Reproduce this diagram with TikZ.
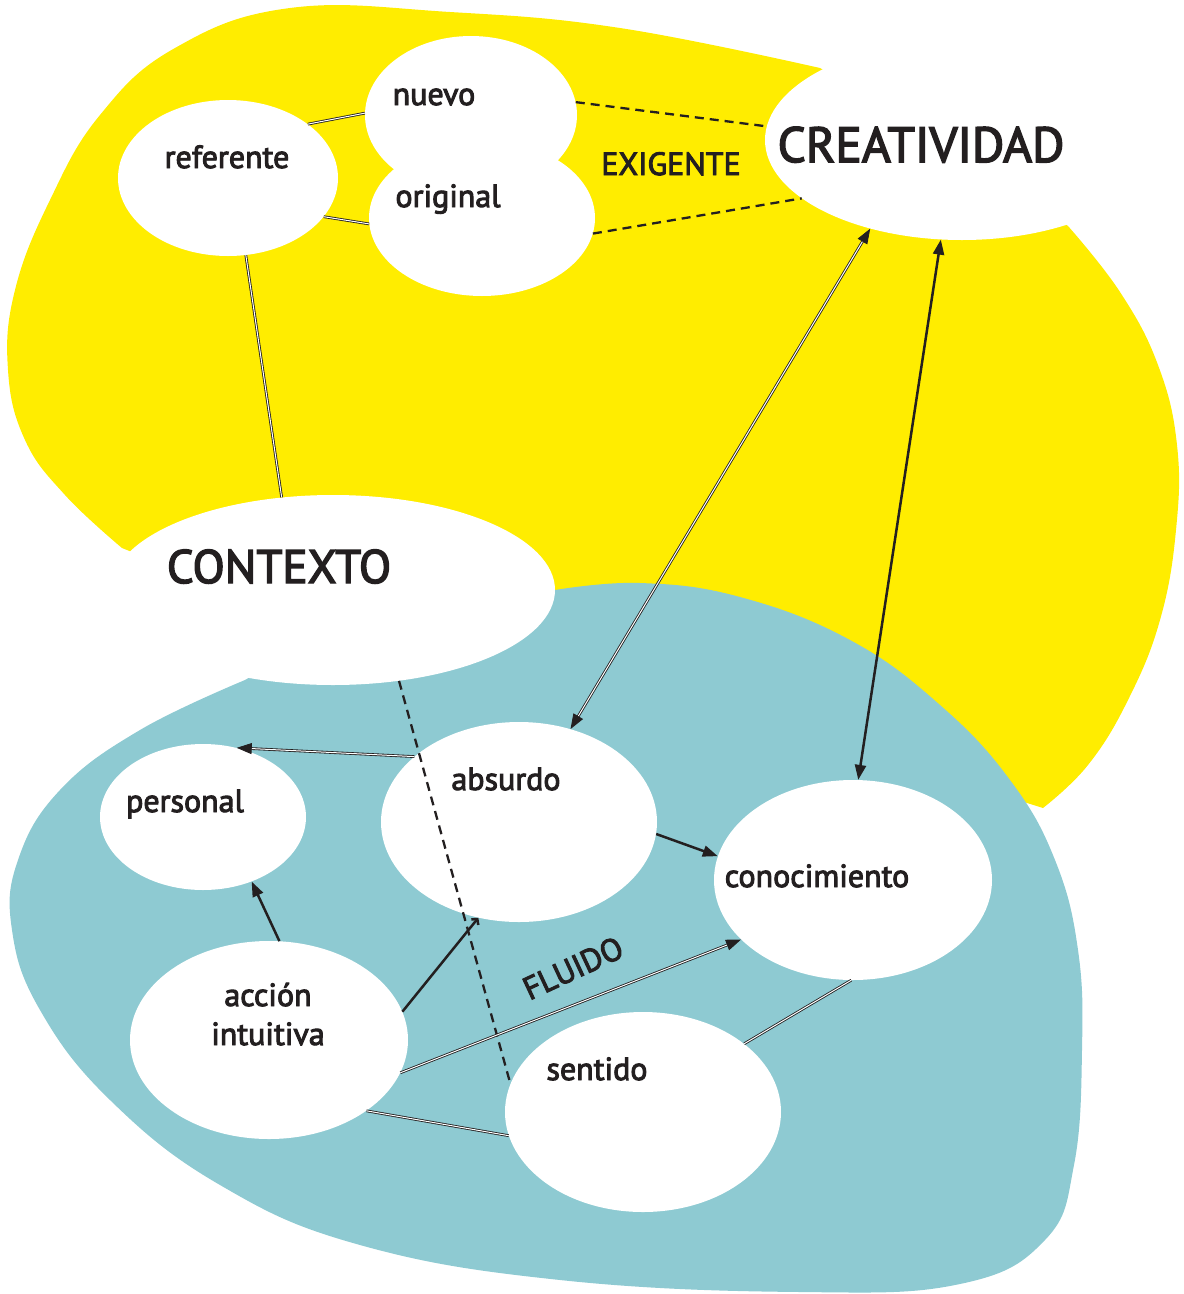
\documentclass[tikz,border=0pt]{standalone}
\usepackage{fontspec}
\setmainfont{PT Sans}
\newfontfamily\lblf{PT Sans}[FakeBold=3]
\usetikzlibrary{arrows.meta,shapes.geometric}
\definecolor{ylw}{RGB}{255,237,0}
\definecolor{blu}{RGB}{142,202,210}
\definecolor{ink}{RGB}{35,31,32}
\begin{document}
\begin{tikzpicture}[x=1pt,y=-1pt,
  bub/.style={ellipse, fill=white, inner sep=0pt, draw=none},
  lbl/.style={text=ink, anchor=base, inner sep=0pt, font=\lblf\fontsize{32}{36}\selectfont},
  big/.style={text=ink, anchor=base, inner sep=0pt, font=\lblf\fontsize{49.5}{54}\selectfont},
  dbl/.style={draw=ink, line width=0.85pt, double=white, double distance=1pt},
  dsh/.style={draw=ink, line width=2.3pt, dash pattern=on 9pt off 6pt},
  thk/.style={draw=ink, line width=2.5pt},
  arr/.style={-{Triangle[length=15pt,width=11pt]}},
  barr/.style={{Triangle[length=15pt,width=11pt]}-{Triangle[length=15pt,width=11pt]}}
]
\useasboundingbox (0,0) rectangle (1184,1294);
% yellow blob
\fill[ylw] (122,548) plot[smooth, tension=0.7] coordinates {(122,548) (65,495) (25,440) (8,370) (15,290) (50,200) (100,115) (175,48) (290,8) (450,12) (620,28) (820,68)}
  -- (960,150) -- plot[smooth, tension=0.7] coordinates {(1068,226) (1120,292) (1158,365) (1177,445) (1176,530) (1160,620) (1128,700) (1088,765) (1043,808)}
  -- (700,700) -- (350,640) -- cycle;
% blue blob
\fill[blu] (245,680) plot[smooth, tension=0.7] coordinates {(245,680) (140,730) (60,790) (18,860) (12,930) (40,1010) (110,1100) (220,1185) (360,1245) (560,1280) (800,1292) (960,1284) (1045,1240) (1074,1165) (1082,1050) (1078,950) (1055,860) (1010,780) (940,705) (850,640) (740,597) (640,583) (555,590)} -- (333,630) -- cycle;
% ellipses
\node[bub, minimum width=394pt, minimum height=200pt] (crea) at (962,140) {};
\node[bub, minimum width=444pt, minimum height=190pt] (contexto) at (333,590) {};
\node[bub, minimum width=220pt, minimum height=156pt] (referente) at (228,178) {};
\node[bub, minimum width=212pt, minimum height=158pt] (nuevo) at (471,115) {};
\node[bub, minimum width=226pt, minimum height=156pt] (original) at (482,218) {};
\node[bub, minimum width=206pt, minimum height=146pt] (personal) at (203,817) {};
\node[bub, minimum width=276pt, minimum height=200pt] (absurdo) at (519,822) {};
\node[bub, minimum width=278pt, minimum height=200pt] (conoc) at (853,880) {};
\node[bub, minimum width=278pt, minimum height=198pt] (accion) at (269,1040) {};
\node[bub, minimum width=276pt, minimum height=200pt] (sentido) at (643,1112) {};
% connectors
\draw[dbl] (referente.34) -- (nuevo.179);
\draw[dbl] (referente.338) -- (original.183);
\draw[dbl] (referente.283) -- (contexto.119);
\draw[dsh] (nuevo.7) -- (crea.176);
\draw[dsh] (original.352) -- (crea.200);
\draw[dbl, barr] (crea.224) -- (absurdo.61);
\draw[thk, barr] (crea.258) -- (conoc.87);
\draw[dsh] (contexto.306) -- (sentido.168);
\draw[dbl, arr] (absurdo.148) -- (personal.64);
\draw[thk, arr] (absurdo.355) -- (conoc.170);
\draw[thk, arr] (accion.84) -- (personal.307);
\draw[thk, -{Straight Barb[length=4pt,width=9pt]}] (accion.12) -- (absurdo.247);
\draw[dbl, arr] (accion.346) -- (conoc.208);
\draw[dbl] (accion.324) -- (sentido.190);
\draw[dbl] (sentido.34) -- (conoc.269);
% texts
\node[lbl] (tnuevo) at (434,105) {nuevo};
\node[lbl] (treferente) at (227,168) {referente};
\node[lbl] (toriginal) at (448,207) {original};
\node[lbl] (texigente) at (671,175) {EXIGENTE};
\node[big] (tcrea) at (921,162) {CREATIVIDAD};
\node[big, font=\lblf\fontsize{47}{52}\selectfont] (tcontexto) at (279,583) {CONTEXTO};
\node[lbl] (tpersonal) at (185,812) {personal};
\node[lbl] (tabsurdo) at (506,790) {absurdo};
\node[lbl] (tconoc) at (817,887) {conocimiento};
\node[lbl] (taccion) at (268,1006) {acción};
\node[lbl] (tintuitiva) at (268,1045) {intuitiva};
\node[lbl] (tsentido) at (597,1080) {sentido};
\node[lbl, anchor=center, rotate=25] (tfluido) at (573,968) {FLUIDO};
\end{tikzpicture}
\end{document}
